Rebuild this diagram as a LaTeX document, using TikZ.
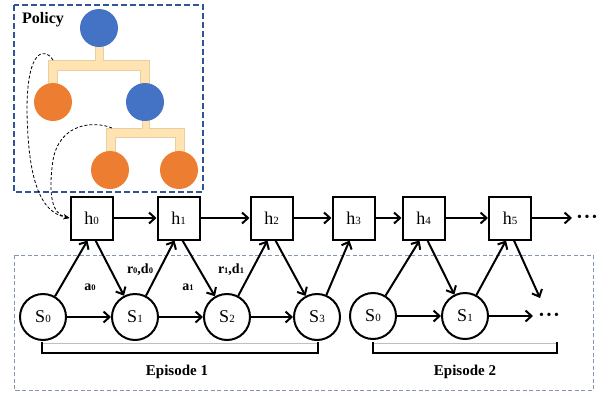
\documentclass[tikz,border=0pt]{standalone}
\usepackage{fontspec}
\setmainfont{Liberation Serif}
\usetikzlibrary{arrows.meta,calc}
\definecolor{pblue}{HTML}{2F5597}
\definecolor{lbox}{HTML}{8497B0}
\definecolor{nblue}{HTML}{4472C4}
\definecolor{norange}{HTML}{ED7D31}
\definecolor{treefill}{HTML}{FFE3B3}
\definecolor{treeline}{HTML}{E8CFA0}
\newcommand\sbs[1]{{\fontsize{11}{11}\selectfont #1}}
\newcommand\sbl[1]{{\fontsize{8.5}{8.5}\selectfont #1}}
\newcommand\threedots{{\fontsize{14}{14}\selectfont\textbullet\hspace{2.5pt}\textbullet\hspace{2.5pt}\textbullet}}
\tikzset{
  hbox/.style={draw, line width=2pt, minimum width=42pt, minimum height=43pt, inner sep=0pt, font=\fontsize{18}{18}\selectfont},
  sstate/.style={draw, circle, line width=2pt, minimum size=46pt, inner sep=0pt, font=\fontsize{18}{18}\selectfont},
  arr/.style={line width=2pt, -{Straight Barb[length=6pt,width=11pt,line width=2pt]}},
  tree/.style={fill=treefill, draw=treeline, line width=0.6pt},
  tnode/.style={circle, minimum size=38pt, inner sep=0pt},
  lab/.style={font=\bfseries\fontsize{14}{14}\selectfont, inner sep=1pt},
  dots/.style={inner sep=0pt, anchor=west},
  link/.style={densely dashed, line width=0.8pt, -{Stealth[length=6pt,width=5pt]}},
}
\begin{document}
\begin{tikzpicture}[x=1pt,y=-1pt]
\useasboundingbox (0,0) rectangle (608,397);
% policy box
\draw[pblue, line width=1.3pt, dash pattern=on 6pt off 3pt] (14,5) rectangle (203,192);
\node[font=\bfseries\fontsize{16}{16}\selectfont, anchor=west, inner sep=0pt] (policy) at (22,20) {Policy};
% tree structure
\draw[tree] (95,45) -- (95,60) -- (48,60) -- (48,90) -- (57,90) -- (57,70) -- (140,70) -- (140,90) -- (149,90) -- (149,60) -- (103,60) -- (103,45) -- cycle;
\draw[tree] (142,115) -- (142,128) -- (106,128) -- (106,160) -- (115,160) -- (115,137) -- (175,137) -- (175,160) -- (184,160) -- (184,128) -- (149,128) -- (149,115) -- cycle;
\node[tnode, fill=nblue] (root) at (99,28) {};
\node[tnode, fill=norange] (leafA) at (53,102) {};
\node[tnode, fill=nblue] (mid) at (145,102) {};
\node[tnode, fill=norange] (leafB) at (110,170) {};
\node[tnode, fill=norange] (leafC) at (179,170) {};
\coordinate (bar1) at (53,60);
\coordinate (bar2) at (112,128);
% lower box
\draw[lbox, line width=0.8pt, dash pattern=on 4pt off 2.5pt] (14,255) rectangle (593,390);
% h nodes
\node[hbox] (h0) at (91.5,218) {h\sbs{0}};
\node[hbox] (h1) at (178.5,218) {h\sbs{1}};
\node[hbox] (h2) at (271.5,218) {h\sbs{2}};
\node[hbox] (h3) at (353.5,218) {h\sbs{3}};
\node[hbox] (h4) at (423.5,218) {h\sbs{4}};
\node[hbox] (h5) at (510,218) {h\sbs{5}};
\node[dots] (hd) at (577,218) {\threedots};
% states
\node[sstate] (s0) at (43,317) {S\sbs{0}};
\node[sstate] (s1) at (135,317) {S\sbs{1}};
\node[sstate] (s2) at (227,317) {S\sbs{2}};
\node[sstate] (s3) at (317,317) {S\sbs{3}};
\node[sstate] (t0) at (373,316) {S\sbs{0}};
\node[sstate] (t1) at (465,316) {S\sbs{1}};
\node[dots] (sd) at (539,316) {\threedots};
\coordinate (fe) at (540,298);
% dashed links
\draw[link] (bar1) .. controls (46,48) and (27,46) .. (27,110) .. controls (28,180) and (40,212) .. (h0.west);
\draw[link] (bar2) .. controls (95,121) and (60,122) .. (53,160) .. controls (48,195) and (52,214) .. (h0.west);
% h chain
\draw[arr] (h0) -- (h1);
\draw[arr] (h1) -- (h2);
\draw[arr] (h2) -- (h3);
\draw[arr] (h3) -- (h4);
\draw[arr] (h4) -- (h5);
\draw[arr] (h5) -- ($(hd.west |- h5.east)+(-5,0)$);
% state chain
\draw[arr] (s0) -- (s1);
\draw[arr] (s1) -- (s2);
\draw[arr] (s2) -- (s3);
\draw[arr] (t0) -- (t1);
\draw[arr] (t1) -- ($(sd.west |- t1.east)+(-6,0)$);
% up/down arrows
\draw[arr] (s0) -- ($(h0.south)+(-4,0)$);
\draw[arr] ($(h0.south)+(4,0)$) -- (s1);
\draw[arr] (s1) -- ($(h1.south)+(-4,0)$);
\draw[arr] ($(h1.south)+(4,0)$) -- (s2);
\draw[arr] (s2) -- ($(h2.south)+(-4,0)$);
\draw[arr] ($(h2.south)+(4,0)$) -- (s3);
\draw[arr] (s3) -- ($(h3.south)+(-4,0)$);
\draw[arr] (t0) -- ($(h4.south)+(-4,0)$);
\draw[arr] ($(h4.south)+(4,0)$) -- (t1);
\draw[arr] (t1) -- ($(h5.south)+(-4,0)$);
\draw[arr] ($(h5.south)+(4,0)$) -- (fe);
% labels
\node[lab] (la0) at (90,287) {a\sbl{0}};
\node[lab] (lr0) at (140,270) {r\sbl{0},d\sbl{0}};
\node[lab] (la1) at (188,287) {a\sbl{1}};
\node[lab] (lr1) at (231,270) {r\sbl{1},d\sbl{1}};
% brackets
\draw[black!25, line width=0.6pt] (42,343) -- (318,343);
\draw[line width=2pt] (42,342) -- (42,353) -- (318,353) -- (318,342);
\draw[black!25, line width=0.6pt] (373,343) -- (557,343);
\draw[line width=2pt] (373,342) -- (373,353) -- (557,353) -- (557,342);
\node[font=\bfseries\fontsize{15}{15}\selectfont, inner sep=0pt] (ep1) at (177,372) {Episode 1};
\node[font=\bfseries\fontsize{15}{15}\selectfont, inner sep=0pt] (ep2) at (465,372) {Episode 2};
\end{tikzpicture}
\end{document}
